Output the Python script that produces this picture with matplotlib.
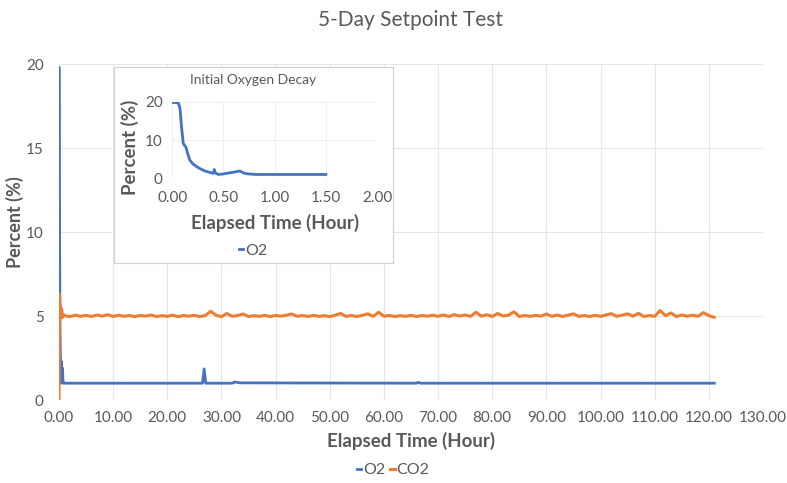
import numpy as np
import matplotlib
matplotlib.use("Agg")
import matplotlib.pyplot as plt

plt.rcParams['font.family'] = ['Lato', 'DejaVu Sans']

# O2 during the first 1.5 hours (inset + start of main chart)
o2_decay_t = [0.0, 0.03, 0.06, 0.075, 0.09, 0.107, 0.133, 0.15, 0.17, 0.2, 0.24, 0.28,
              0.32, 0.36, 0.40, 0.41, 0.42, 0.45, 0.49, 0.53, 0.58, 0.62, 0.66, 0.69,
              0.72, 0.77, 0.82, 1.0, 1.2, 1.5]
o2_decay = [19.8, 19.8, 19.6, 18.3, 13.5, 9.1, 8.1, 6.5, 4.8, 3.8, 3.0, 2.4,
            1.9, 1.6, 1.3, 2.3, 1.4, 1.0, 1.1, 1.3, 1.5, 1.7, 1.9, 1.5,
            1.2, 1.1, 1.0, 1.0, 1.0, 1.0]

# O2 after that, mostly flat with a few blips
o2_long_t = [2.0, 26.5, 26.8, 27.1, 32.0, 32.5, 33.5, 66.0, 66.3, 66.8, 121.0]
o2_long = [1.0, 1.0, 1.85, 1.0, 1.0, 1.07, 1.02, 1.0, 1.05, 1.0, 1.0]

# CO2 start-up overshoot
co2_early_t = [0.0, 0.05, 0.1, 0.15, 0.2, 0.3, 0.4, 0.5, 0.6, 0.8]
co2_early = [0.0, 3.5, 6.3, 5.8, 5.3, 5.6, 5.1, 5.4, 4.9, 5.1]

# CO2 hourly readings, hours 1..121
co2_hourly = [
    5.02, 4.96, 5.05, 4.98, 5.04, 4.97, 5.06, 4.99, 5.08, 4.97,
    5.05, 4.98, 5.03, 4.96, 5.04, 4.99, 5.06, 4.97, 5.02, 4.98,
    5.05, 4.96, 5.03, 4.99, 5.04, 4.97, 5.02, 5.28, 5.05, 4.96,
    5.15, 4.98, 5.03, 5.12, 4.97, 5.02, 4.98, 5.04, 4.97, 5.03,
    4.99, 5.05, 5.12, 4.98, 5.03, 4.97, 5.04, 4.98, 5.02, 4.96,
    5.05, 5.15, 4.98, 5.03, 4.97, 5.04, 5.13, 4.98, 5.22, 4.99,
    5.03, 4.97, 5.02, 4.98, 5.04, 4.97, 5.03, 4.99, 5.05, 4.98,
    5.06, 4.97, 5.08, 5.00, 5.06, 4.98, 5.22, 4.99, 5.08, 4.97,
    5.15, 5.00, 5.05, 5.25, 4.97, 5.03, 4.98, 5.04, 4.99, 5.12,
    4.98, 5.06, 4.97, 5.05, 5.13, 4.98, 5.03, 4.97, 5.04, 4.98,
    5.06, 5.14, 4.98, 5.05, 5.13, 4.99, 5.16, 4.97, 5.03, 4.98,
    5.32, 5.02, 5.18, 4.97, 5.06, 4.99, 5.05, 4.98, 5.20, 5.02,
    4.92,
]
co2_hourly_t = list(range(1, 122))

x_ticks = np.arange(0, 131, 10)
y_ticks = [0, 5, 10, 15, 20]
inset_x_ticks = [0.0, 0.5, 1.0, 1.5, 2.0]
inset_y_ticks = [0, 10, 20]

BLUE = '#4472C4'
ORANGE = '#ED7D31'
GREY = '#595959'
GRID = '#e6e6e6'

o2_t = o2_decay_t + o2_long_t
o2_v = o2_decay + o2_long
co2_t = co2_early_t + co2_hourly_t
co2_v = co2_early + co2_hourly

fig = plt.figure(figsize=(7.87, 4.83), dpi=100)

# main chart
ax = fig.add_axes([59/787, 1 - 400/483, 704/787, 336/483])
ax.plot(o2_t, o2_v, color=BLUE, lw=2, label='O2', zorder=3)
ax.plot(co2_t, co2_v, color=ORANGE, lw=2.2, label='CO2', zorder=3)
ax.set_xlim(0, 130)
ax.set_ylim(0, 20)
ax.set_xticks(x_ticks)
ax.set_xticklabels([f'{v:.2f}' for v in x_ticks])
ax.set_yticks(y_ticks)
ax.grid(True, color=GRID, lw=0.8)
ax.set_axisbelow(True)
for s in ax.spines.values():
    s.set_visible(False)
ax.tick_params(length=0, labelsize=11, labelcolor=GREY)
ax.tick_params(axis='y', pad=11)
ax.tick_params(axis='x', pad=8)
ax.set_xlabel('Elapsed Time (Hour)', fontsize=13.5, fontweight='bold', color=GREY)
ax.set_ylabel('Percent (%)', fontsize=13, fontweight='bold', color=GREY)
ax.xaxis.set_label_coords(0.5, -0.095)
ax.yaxis.set_label_coords(-0.05, 0.53)

fig.text(411/787, 1 - 20/483, '5-Day Setpoint Test', ha='center', va='center',
         fontsize=15, color=GREY)
leg = fig.legend(loc='center', bbox_to_anchor=(393/787, 1 - 470/483), ncol=2,
                 frameon=False, handlelength=0.3, handletextpad=0.1,
                 columnspacing=0.3, fontsize=11.5)
for t in leg.get_texts():
    t.set_color(GREY)

# inset box
box = fig.add_axes([114/787, 1 - 263/483, 279/787, 196/483])
box.set_xticks([])
box.set_yticks([])
box.set_facecolor('white')
for s in box.spines.values():
    s.set_color('#d0d0d0')
    s.set_linewidth(0.8)

axi = fig.add_axes([172.3/787, 1 - 178.3/483, 204.7/787, 76.6/483])
axi.plot(o2_decay_t, o2_decay, color=BLUE, lw=2, label='O2')
axi.set_xlim(0, 2)
axi.set_ylim(0, 20)
axi.set_xticks(inset_x_ticks)
axi.set_xticklabels([f'{v:.2f}' for v in inset_x_ticks])
axi.set_yticks(inset_y_ticks)
axi.grid(True, color=GRID, lw=0.6, alpha=0.7)
axi.set_axisbelow(True)
for s in axi.spines.values():
    s.set_visible(False)
axi.tick_params(length=0, labelsize=11, labelcolor=GREY)
axi.tick_params(axis='y', pad=7)
axi.tick_params(axis='x', pad=9)
axi.set_xlabel('Elapsed Time (Hour)', fontsize=13.5, fontweight='bold', color=GREY)
axi.set_ylabel('Percent (%)', fontsize=13.5, fontweight='bold', color=GREY)
axi.xaxis.set_label_coords(0.5, -0.46)
axi.yaxis.set_label_coords(-0.165, 0.41)
fig.text(253/787, 1 - 80/483, 'Initial Oxygen Decay', ha='center', va='center',
         fontsize=10, color=GREY)
li = axi.legend(loc='center', bbox_to_anchor=(253/787, 1 - 251/483),
                bbox_transform=fig.transFigure, frameon=False, handlelength=0.3,
                handletextpad=0.1, fontsize=11.5)
for t in li.get_texts():
    t.set_color(GREY)

fig.savefig('out.png', dpi=100)
